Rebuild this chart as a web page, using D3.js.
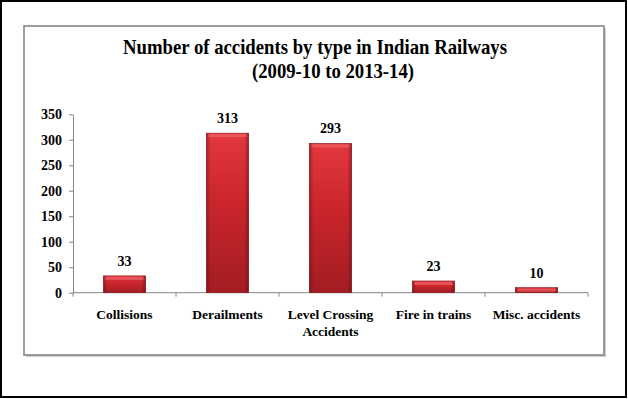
<!DOCTYPE html>
<html>
<head>
<meta charset="utf-8">
<script src="https://cdn.jsdelivr.net/npm/d3@7"></script>
<style>
  body { margin: 0; background: #fff; }
  text { font-family: "Liberation Serif", "Times New Roman", serif; font-weight: bold; }
</style>
</head>
<body>
<div id="chart-area"></div>
<script>
var categories = ["Collisions", "Derailments", "Level Crossing Accidents", "Fire in trains", "Misc. accidents"];
var values = [33, 313, 293, 23, 10];
var yTicks = [0, 50, 100, 150, 200, 250, 300, 350];
var titleLines = ["Number of accidents by type in Indian Railways", "(2009-10 to 2013-14)"];

var width = 628, height = 399;
var plot = {left: 73, right: 588, top: 114.3, bottom: 292.7};

var svg = d3.select("#chart-area").append("svg")
	.attr("width", width)
	.attr("height", height);

var defs = svg.append("defs");
var grad = defs.append("linearGradient")
	.attr("id", "barGrad")
	.attr("x1", 0).attr("y1", 0).attr("x2", 0).attr("y2", 1);
grad.append("stop").attr("offset", "0%").attr("stop-color", "#e2383e");
grad.append("stop").attr("offset", "45%").attr("stop-color", "#c9252b");
grad.append("stop").attr("offset", "100%").attr("stop-color", "#a21d22");

var edge = defs.append("linearGradient")
	.attr("id", "edgeGrad")
	.attr("x1", 0).attr("y1", 0).attr("x2", 1).attr("y2", 0);
edge.append("stop").attr("offset", "0%").attr("stop-color", "#5a0a0d").attr("stop-opacity", 0.45);
edge.append("stop").attr("offset", "10%").attr("stop-color", "#5a0a0d").attr("stop-opacity", 0);
edge.append("stop").attr("offset", "90%").attr("stop-color", "#5a0a0d").attr("stop-opacity", 0);
edge.append("stop").attr("offset", "100%").attr("stop-color", "#5a0a0d").attr("stop-opacity", 0.5);

// outer frame
svg.append("rect")
	.attr("x", 1).attr("y", 1)
	.attr("width", 625).attr("height", 396)
	.attr("fill", "none")
	.attr("stroke", "#000")
	.attr("stroke-width", 2);

// chart box with shadow
svg.append("rect")
	.attr("x", 26).attr("y", 28)
	.attr("width", 580).attr("height", 329)
	.attr("fill", "#cfcfcf");
svg.append("rect")
	.attr("x", 24).attr("y", 26)
	.attr("width", 580).attr("height", 329)
	.attr("fill", "#fff")
	.attr("stroke", "#7f7f7f")
	.attr("stroke-width", 1.5);

// title
svg.append("text")
	.attr("x", 123).attr("y", 53.5)
	.attr("font-size", "21px")
	.attr("textLength", 384)
	.attr("lengthAdjust", "spacingAndGlyphs")
	.attr("fill", "#000")
	.text(titleLines[0]);
svg.append("text")
	.attr("x", 252).attr("y", 78)
	.attr("font-size", "21px")
	.attr("textLength", 162)
	.attr("lengthAdjust", "spacingAndGlyphs")
	.attr("fill", "#000")
	.text(titleLines[1]);

var x = d3.scaleBand()
	.domain(categories)
	.range([plot.left, plot.right])
	.paddingInner(0.59)
	.paddingOuter(0.295);

var y = d3.scaleLinear()
	.domain([0, 350])
	.range([plot.bottom, plot.top]);

// y axis
var leftAxis = d3.axisLeft(y)
	.tickValues(yTicks)
	.tickSize(4)
	.tickSizeOuter(0)
	.tickPadding(7);
var gy = svg.append("g")
	.attr("class", "left axis")
	.attr("transform", "translate(" + plot.left + ",0)")
	.call(leftAxis)
	.attr("font-family", null);
gy.select(".domain").attr("stroke", "#868686");
gy.selectAll(".tick line").attr("stroke", "#868686");
gy.selectAll(".tick text")
	.attr("font-size", "14px")
	.attr("fill", "#000");

// x axis line and category dividers
var step = x.step();
var dividers = d3.range(categories.length + 1).map(function (i) { return plot.left + i * step; });
svg.append("line")
	.attr("x1", plot.left).attr("x2", plot.right)
	.attr("y1", y(0)).attr("y2", y(0))
	.attr("stroke", "#868686");
svg.selectAll(".divider").data(dividers).enter().append("line")
	.attr("class", "divider")
	.attr("x1", function (d) { return d; }).attr("x2", function (d) { return d; })
	.attr("y1", y(0)).attr("y2", y(0) + 4)
	.attr("stroke", "#868686");

// bars
var bars = svg.selectAll(".bar").data(values).enter().append("g").attr("class", "bar");
bars.append("rect")
	.attr("x", function (d, i) { return x(categories[i]); })
	.attr("y", function (d) { return y(d); })
	.attr("width", x.bandwidth())
	.attr("height", function (d) { return y(0) - y(d); })
	.attr("fill", "url(#barGrad)")
	.attr("stroke", "#8a1519")
	.attr("stroke-width", 0.6);
bars.append("rect")
	.attr("x", function (d, i) { return x(categories[i]); })
	.attr("y", function (d) { return y(d); })
	.attr("width", x.bandwidth())
	.attr("height", function (d) { return y(0) - y(d); })
	.attr("fill", "url(#edgeGrad)");
bars.append("rect")
	.attr("x", function (d, i) { return x(categories[i]) + 2; })
	.attr("y", function (d) { return y(d) + 1; })
	.attr("width", x.bandwidth() - 4)
	.attr("height", function (d) { return Math.min(3, y(0) - y(d) - 2); })
	.attr("fill", "#f06a6e")
	.attr("opacity", 0.6);

// value labels
svg.selectAll(".value").data(values).enter().append("text")
	.attr("class", "value")
	.attr("x", function (d, i) { return x(categories[i]) + x.bandwidth() / 2; })
	.attr("y", function (d) { return y(d) - 10; })
	.attr("text-anchor", "middle")
	.attr("font-size", "14px")
	.attr("fill", "#000")
	.text(function (d) { return d; });

// category labels
var catLines = {"Level Crossing Accidents": ["Level Crossing", "Accidents"]};
var cats = svg.selectAll(".cat").data(categories).enter().append("text")
	.attr("class", "cat")
	.attr("text-anchor", "middle")
	.attr("font-size", "13.5px")
	.attr("fill", "#000");
cats.selectAll("tspan")
	.data(function (d) { return catLines[d] || [d]; })
	.enter().append("tspan")
	.attr("x", function () { var c = d3.select(this.parentNode).datum(); return x(c) + x.bandwidth() / 2; })
	.attr("y", function (d, i) { return 319 + i * 17; })
	.text(function (d) { return d; });
</script>
</body>
</html>
